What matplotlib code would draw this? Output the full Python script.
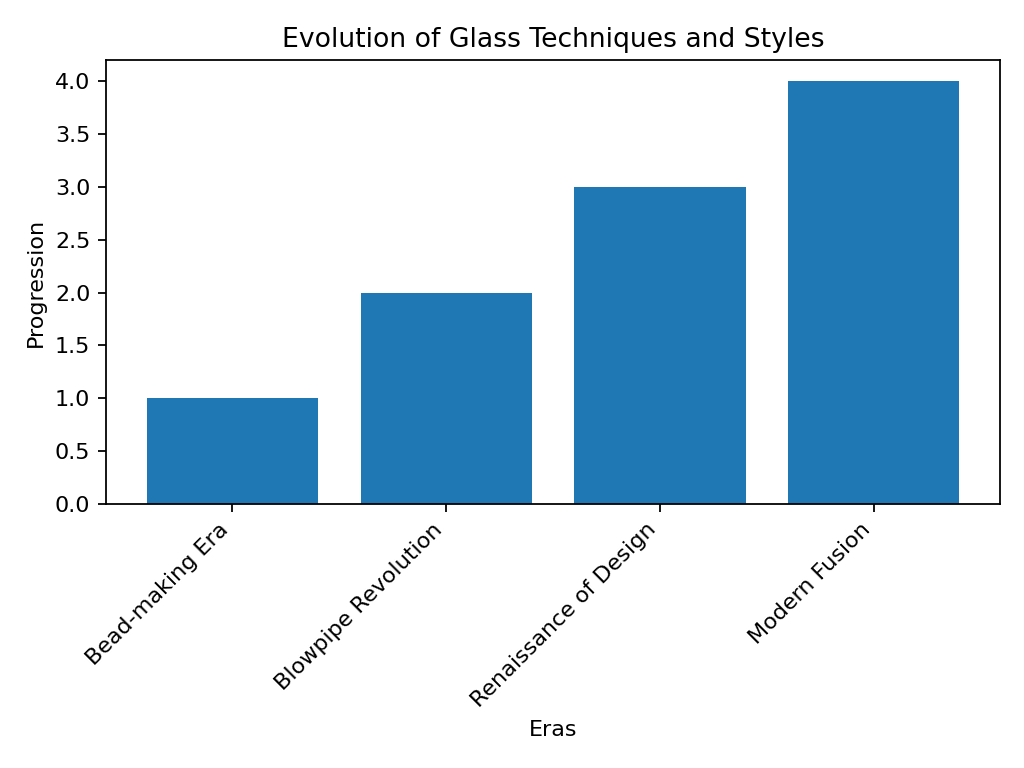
# Evolution of glass techniques bar chart

import matplotlib
matplotlib.use('Agg')
import matplotlib.pyplot as plt

# Data
eras = ['Bead-making Era', 'Blowpipe Revolution', 'Renaissance of Design', 'Modern Fusion']
progression = [1, 2, 3, 4]

fig, ax = plt.subplots(figsize=(6.4, 4.8), dpi=160)
ax.bar(eras, progression, color='#1f77b4')

# Titles and labels
ax.set_title('Evolution of Glass Techniques and Styles')
ax.set_xlabel('Eras')
ax.set_ylabel('Progression')
plt.xticks(rotation=45, ha='right')
plt.subplots_adjust(left=0.1035, right=0.9766, top=0.9219, bottom=0.3438)

plt.savefig('out.png')
